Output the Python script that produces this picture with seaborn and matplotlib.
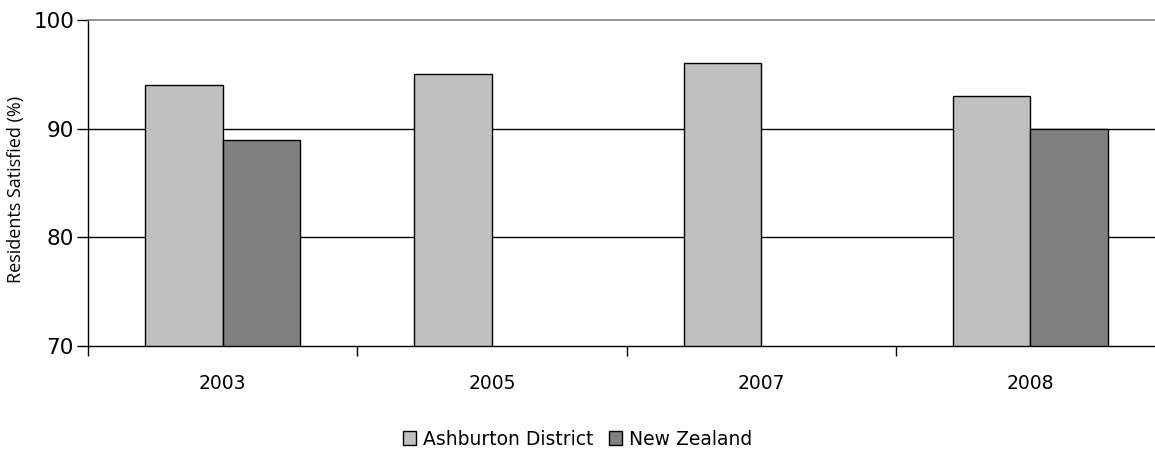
import numpy as np
import pandas as pd
import matplotlib
matplotlib.use("Agg")
import matplotlib.pyplot as plt
import seaborn as sns

# data
years = ["2003", "2005", "2007", "2008"]
ashburton = [94, 95, 96, 93]
new_zealand = [89, np.nan, np.nan, 90]
series_names = ["Ashburton District", "New Zealand"]

df = pd.DataFrame({
    "Year": years * 2,
    "Series": [series_names[0]] * 4 + [series_names[1]] * 4,
    "Value": ashburton + new_zealand,
})

sns.set_style("white")
plt.rcParams["font.family"] = ["DejaVu Sans"]
plt.rcParams["text.color"] = "black"
plt.rcParams["axes.labelcolor"] = "black"
plt.rcParams["xtick.color"] = "black"
plt.rcParams["ytick.color"] = "black"

fig = plt.figure(figsize=(11.55, 4.55), dpi=100)
ax = fig.add_axes([0.0762, 0.2396, 0.9325, 0.7164])

sns.barplot(data=df, x="Year", y="Value", hue="Series",
            palette=["#c0c0c0", "#808080"], edgecolor="black", linewidth=1,
            width=0.575, gap=0, ax=ax, legend=True)

ax.set_ylim(70, 100)
ax.set_xlim(-0.5, 3.5)
ax.set_yticks([70, 80, 90, 100])
ax.tick_params(axis="y", labelsize=15.5, length=8, width=1, color="black",
               labelcolor="black", direction="out", left=True, pad=2)

# year labels in the middle, tick marks between groups
ax.set_xticks(range(4))
ax.set_xticklabels(years)
ax.tick_params(axis="x", which="major", length=0, labelsize=13.5, pad=20,
               labelcolor="black")
ax.set_xticks([-0.5, 0.5, 1.5, 2.5], minor=True)
ax.tick_params(axis="x", which="minor", length=7, width=1, color="black",
               direction="out", bottom=True)

ax.set_xlabel("")
ax.set_ylabel("Residents Satisfied (%)", fontsize=13, color="black",
              family=["Open Sans", "DejaVu Sans"])
ax.yaxis.set_label_coords(-0.0585, 0.48)

for y in [80, 90]:
    ax.axhline(y, color="black", lw=1, zorder=0)

for s in ["left", "bottom"]:
    ax.spines[s].set_color("black")
    ax.spines[s].set_linewidth(1)
ax.spines["top"].set_color("#808080")
ax.spines["top"].set_linewidth(1.2)
ax.spines["right"].set_visible(False)

handles, labels = ax.get_legend_handles_labels()
ax.legend_.remove()
fig.legend(handles, labels, loc="center", bbox_to_anchor=(0.5, 0.035), ncol=2,
           frameon=False, fontsize=13.5, handlelength=0.7, handleheight=0.7,
           handletextpad=0.4, columnspacing=0.8, labelcolor="black")

fig.savefig("out.png", dpi=100)
